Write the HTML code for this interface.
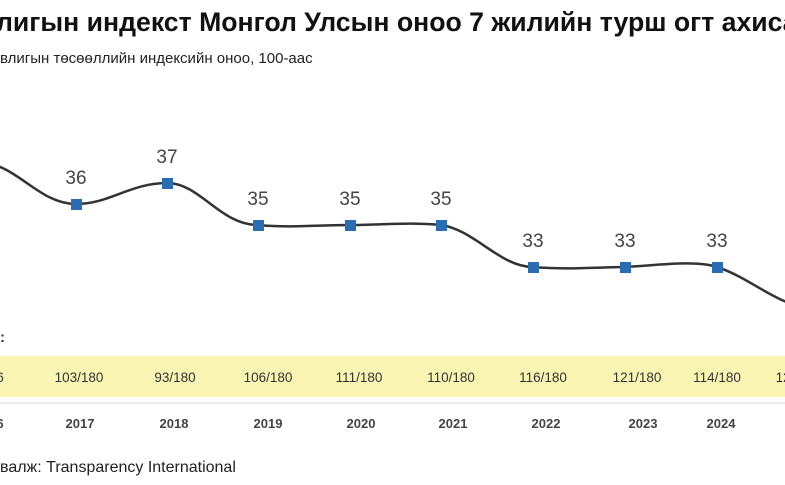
<!DOCTYPE html>
<html><head><meta charset="utf-8"><style>
body{margin:0;background:#fff;width:785px;height:485px;overflow:hidden}
svg{display:block}
</style></head><body>
<svg width="785" height="485" xmlns="http://www.w3.org/2000/svg" font-family="Liberation Sans, DejaVu Sans, sans-serif">
<text x="-4" y="31" font-size="27" font-weight="bold" fill="#111" textLength="860" lengthAdjust="spacingAndGlyphs">лигын индекст Монгол Улсын оноо 7 жилийн турш огт ахисангүй</text>
<text x="0" y="63" font-size="15" fill="#222">влигын төсөөллийн индексийн оноо, 100-аас</text>
<path d="M-16,162 C20,168 40,204 76,204 C110,204 130,183 167,183 C200,183 220,225 258,225 C290,228 320,225 350,225 C380,225 410,222 441,225 C475,230 500,267 533,267 C570,270 600,267 625,267 C660,265 695,260 717,267 C750,278 770,300 808,309" fill="none" stroke="#333" stroke-width="2.5"/>
<g fill="#2a6db3">
<rect x="71" y="199" width="11" height="11"/><rect x="162" y="178" width="11" height="11"/>
<rect x="253" y="220" width="11" height="11"/><rect x="345" y="220" width="11" height="11"/>
<rect x="436" y="220" width="11" height="11"/><rect x="528" y="262" width="11" height="11"/>
<rect x="620" y="262" width="11" height="11"/><rect x="712" y="262" width="11" height="11"/>
</g>
<g font-size="19" fill="#444" text-anchor="middle">
<text x="76" y="184">36</text><text x="167" y="163">37</text><text x="258" y="205">35</text>
<text x="350" y="205">35</text><text x="441" y="205">35</text><text x="533" y="247">33</text>
<text x="625" y="247">33</text><text x="717" y="247">33</text>
</g>
<text x="0" y="342" font-size="15" font-weight="bold" fill="#333">:</text>
<rect x="0" y="356" width="785" height="41" fill="#fbf5b3"/>
<line x1="0" y1="403" x2="785" y2="403" stroke="#e6e6e6" stroke-width="1.5"/>
<g font-size="13.5" fill="#333" text-anchor="middle">
<text x="0" y="382">6</text><text x="79" y="382">103/180</text><text x="175" y="382">93/180</text>
<text x="268" y="382">106/180</text><text x="359" y="382">111/180</text><text x="451" y="382">110/180</text>
<text x="543" y="382">116/180</text><text x="637" y="382">121/180</text><text x="717" y="382">114/180</text>
<text x="800" y="382">121/180</text>
</g>
<g font-size="13" font-weight="bold" fill="#444" text-anchor="middle">
<text x="0" y="428">6</text><text x="80" y="428">2017</text><text x="174" y="428">2018</text>
<text x="268" y="428">2019</text><text x="361" y="428">2020</text><text x="453" y="428">2021</text>
<text x="546" y="428">2022</text><text x="643" y="428">2023</text><text x="721" y="428">2024</text>
<text x="807" y="428">2025</text>
</g>
<text x="0" y="472" font-size="16" fill="#222">валж: Transparency International</text>
</svg>
</body></html>
